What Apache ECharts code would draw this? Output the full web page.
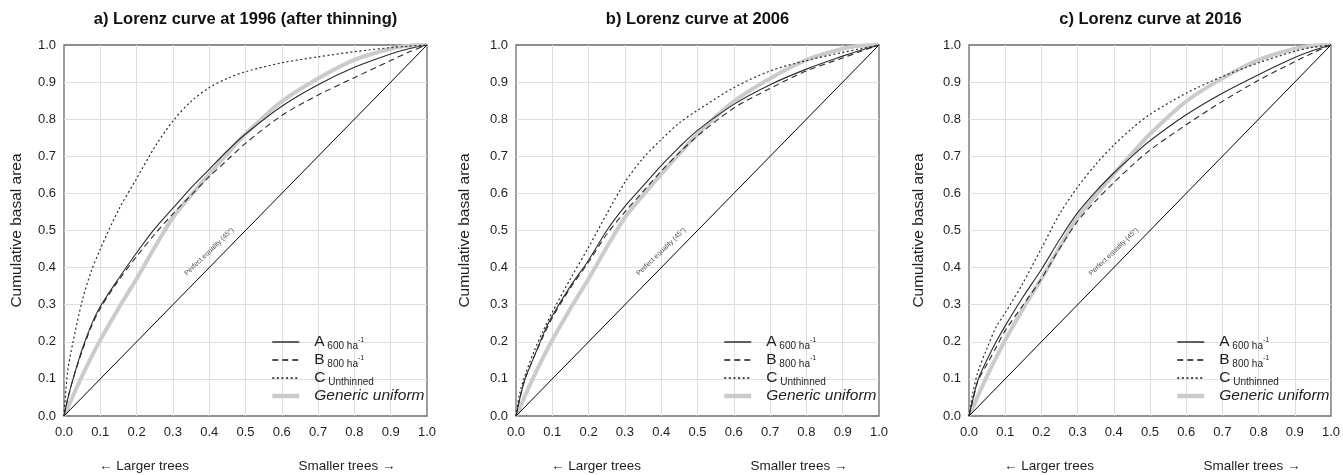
<!DOCTYPE html>
<html>
<head>
<meta charset="utf-8">
<script src="https://cdn.jsdelivr.net/npm/echarts@6/dist/echarts.min.js"></script>
<style>
  html, body { margin: 0; padding: 0; background: #fff; }
  #lorenzChart { width: 1343px; height: 475px; }
</style>
</head>
<body>
<div id="lorenzChart"></div>
<script>
// share of trees (largest first)
const xs = [0, 0.01, 0.025, 0.05, 0.075, 0.1, 0.15, 0.2, 0.25, 0.3, 0.35, 0.4, 0.45, 0.5, 0.6, 0.7, 0.8, 0.9, 0.95, 1.0];

// cumulative basal area
const a1996 = [0, 0.045, 0.1, 0.18, 0.245, 0.295, 0.37, 0.44, 0.505, 0.56, 0.615, 0.665, 0.715, 0.76, 0.835, 0.893, 0.94, 0.976, 0.99, 1];
const b1996 = [0, 0.045, 0.1, 0.175, 0.24, 0.29, 0.365, 0.43, 0.49, 0.545, 0.595, 0.645, 0.69, 0.735, 0.81, 0.865, 0.912, 0.958, 0.981, 1];
const c1996 = [0, 0.12, 0.2, 0.31, 0.39, 0.45, 0.555, 0.64, 0.725, 0.795, 0.848, 0.885, 0.91, 0.928, 0.952, 0.968, 0.982, 0.993, 0.997, 1];

const a2006 = [0, 0.045, 0.1, 0.16, 0.22, 0.27, 0.35, 0.42, 0.5, 0.565, 0.62, 0.675, 0.725, 0.77, 0.84, 0.893, 0.935, 0.97, 0.986, 1];
const b2006 = [0, 0.045, 0.1, 0.16, 0.215, 0.265, 0.345, 0.415, 0.49, 0.55, 0.605, 0.66, 0.71, 0.755, 0.83, 0.883, 0.93, 0.965, 0.983, 1];
const c2006 = [0, 0.06, 0.11, 0.175, 0.23, 0.28, 0.37, 0.455, 0.545, 0.63, 0.695, 0.745, 0.79, 0.824, 0.885, 0.93, 0.958, 0.98, 0.99, 1];

const a2016 = [0, 0.042, 0.098, 0.152, 0.2, 0.243, 0.322, 0.395, 0.475, 0.548, 0.605, 0.655, 0.7, 0.742, 0.812, 0.87, 0.92, 0.966, 0.985, 1];
const b2016 = [0, 0.04, 0.095, 0.14, 0.185, 0.23, 0.3, 0.37, 0.451, 0.525, 0.58, 0.629, 0.675, 0.717, 0.785, 0.848, 0.905, 0.955, 0.979, 1];
const c2016 = [0, 0.06, 0.12, 0.183, 0.24, 0.278, 0.36, 0.452, 0.544, 0.617, 0.678, 0.73, 0.775, 0.813, 0.87, 0.915, 0.952, 0.983, 0.994, 1];

// same reference curve in all panels
const genericUniform = [0, 0.02, 0.055, 0.108, 0.158, 0.205, 0.29, 0.37, 0.455, 0.535, 0.595, 0.652, 0.707, 0.76, 0.848, 0.91, 0.96, 0.99, 0.998, 1.0];

const equality = [[0, 0], [1, 1]];
const equalityLabelAt = [0.40, 0.443];

const panelTitles = [
  "a) Lorenz curve at 1996 (after thinning)",
  "b) Lorenz curve at 2006",
  "c) Lorenz curve at 2016"
];
const panelCurves = [
  [a1996, b1996, c1996],
  [a2006, b2006, c2006],
  [a2016, b2016, c2016]
];
const seriesNames = ["A", "B", "C", "Generic uniform"];

// layout
const gridLefts = [64, 516, 969];
const gridW = 363, gridTop = 45, gridH = 371;
const yNameGaps = [39, 43, 42];
const FONT = "Liberation Sans, Arial, sans-serif";

const pairUp = (ys) => xs.map((x, i) => [x, ys[i]]);

const lineStyles = [
  { color: "#2b2b2b", width: 1.1, type: "solid" },
  { color: "#2b2b2b", width: 1.1, type: [6, 4] },
  { color: "#2b2b2b", width: 1.2, type: [2, 2.6] },
  { color: "#cbcbcb", width: 4, type: "solid" }
];
const legendLineColors = ["#111", "#111", "#111", "#cbcbcb"];

let grids = [], xAxes = [], yAxes = [], series = [], titles = [], legends = [];

panelTitles.forEach((t, i) => {
  const L = gridLefts[i];
  grids.push({
    left: L, top: gridTop, width: gridW, height: gridH,
    show: true, borderColor: "#6a6a6a", borderWidth: 1.3, backgroundColor: "#fff"
  });
  xAxes.push({
    type: "value", gridIndex: i, min: 0, max: 1, interval: 0.1,
    axisLine: { show: false }, axisTick: { show: false },
    axisLabel: { margin: 10, fontSize: 13, color: "#1e1e1e", fontFamily: FONT, formatter: (v) => v.toFixed(1) },
    splitLine: { show: true, showMinLine: false, showMaxLine: false, lineStyle: { color: "#dedede", width: 1 } }
  });
  yAxes.push({
    type: "value", gridIndex: i, min: 0, max: 1, interval: 0.1,
    name: "Cumulative basal area", nameLocation: "middle", nameGap: yNameGaps[i],
    nameTextStyle: { fontSize: 15.5, color: "#1e1e1e", fontFamily: FONT },
    axisLine: { show: false }, axisTick: { show: false },
    axisLabel: { margin: 8, fontSize: 13, color: "#1e1e1e", fontFamily: FONT, formatter: (v) => v.toFixed(1) },
    splitLine: { show: true, showMinLine: false, showMaxLine: false, lineStyle: { color: "#dedede", width: 1 } }
  });

  // generic uniform first so it sits under the others
  series.push({
    name: seriesNames[3], type: "line", xAxisIndex: i, yAxisIndex: i,
    data: pairUp(genericUniform), showSymbol: false, symbol: "none",
    smooth: 0.3, lineStyle: lineStyles[3], itemStyle: { color: lineStyles[3].color }, z: 2, silent: true
  });
  series.push({
    name: "equality", type: "line", xAxisIndex: i, yAxisIndex: i,
    data: equality, symbol: "none", lineStyle: { color: "#000", width: 1 }, z: 3, silent: true
  });
  panelCurves[i].forEach((ys, k) => {
    series.push({
      name: seriesNames[k], type: "line", xAxisIndex: i, yAxisIndex: i,
      data: pairUp(ys), showSymbol: false, symbol: "none",
      smooth: 0.3, lineStyle: lineStyles[k], itemStyle: { color: lineStyles[k].color }, z: 4, silent: true
    });
  });
  series.push({
    name: "equalityLabel", type: "scatter", xAxisIndex: i, yAxisIndex: i,
    data: [equalityLabelAt], symbolSize: 0, silent: true, z: 5,
    label: {
      show: true, position: "inside", rotate: 44, formatter: "Perfect equality (45°)",
      fontSize: 7, color: "#222", fontFamily: FONT
    }
  });

  titles.push({
    text: t, left: L + gridW / 2, top: 11, textAlign: "center", padding: 0,
    textStyle: { fontSize: 16.5, fontWeight: "bold", color: "#111", fontFamily: FONT }
  });
  titles.push({
    text: "← Larger trees", left: L + 80, top: 459, textAlign: "center", padding: 0,
    textStyle: { fontSize: 13.5, fontWeight: "normal", color: "#1e1e1e", fontFamily: FONT }
  });
  titles.push({
    text: "Smaller trees →", left: L + 283, top: 459, textAlign: "center", padding: 0,
    textStyle: { fontSize: 13.5, fontWeight: "normal", color: "#1e1e1e", fontFamily: FONT }
  });

  legends.push({
    orient: "vertical", left: L + 206, top: 334, padding: 0,
    itemWidth: 27, itemHeight: 11, itemGap: 1, selectedMode: false,
    itemStyle: { opacity: 0 },
    data: seriesNames.map((n, k) => ({
      name: n,
      lineStyle: { color: legendLineColors[k], width: k === 3 ? 4.5 : 1.3, type: lineStyles[k].type, opacity: 1 }
    })),
    formatter: function (name) {
      if (name === "A") return "{m|A}{s| 600 ha}{p|-1}";
      if (name === "B") return "{m|B}{s| 800 ha}{p|-1}";
      if (name === "C") return "{m|C}{s| Unthinned}";
      return "{g|Generic uniform}";
    },
    textStyle: {
      fontFamily: FONT, color: "#1e1e1e",
      rich: {
        m: { fontSize: 15.5, lineHeight: 18, padding: [0, 0, 0, 10], verticalAlign: "middle" },
        s: { fontSize: 10, lineHeight: 18, verticalAlign: "bottom", padding: [4, 0, 0, 0] },
        p: { fontSize: 7, lineHeight: 18, verticalAlign: "middle", padding: [0, 0, 4, 0] },
        g: { fontSize: 15.5, lineHeight: 18, fontStyle: "italic", padding: [0, 0, 0, 10] }
      }
    }
  });
});

let myChart = echarts.init(document.getElementById("lorenzChart"));
myChart.setOption({
  animation: false,
  backgroundColor: "#fff",
  title: titles,
  legend: legends,
  grid: grids,
  xAxis: xAxes,
  yAxis: yAxes,
  series: series
});
window.onresize = function () {
  myChart.resize();
};
</script>
</body>
</html>
